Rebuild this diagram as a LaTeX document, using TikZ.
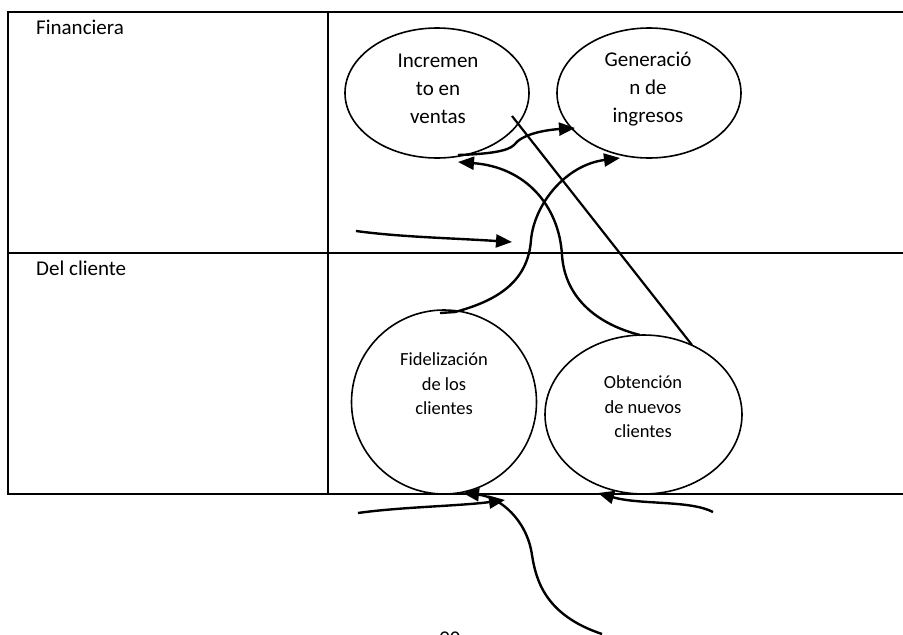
\documentclass[tikz,border=0pt]{standalone}
\usepackage{fontspec}
\setmainfont{Carlito}
\usetikzlibrary{shapes.geometric,arrows.meta}
\begin{document}
\begin{tikzpicture}[x=1pt,y=-1pt,
  grid/.style={line width=2.2pt},
  goal/.style={draw,ellipse,line width=1.6pt,inner sep=0pt},
  bigtxt/.style={align=center,font=\fontsize{21}{28}\selectfont,inner sep=0pt},
  smalltxt/.style={align=center,font=\fontsize{18.5}{24.5}\selectfont,inner sep=0pt},
  rowtxt/.style={anchor=west,font=\fontsize{21}{28}\selectfont,inner sep=0pt},
  link/.style={line width=2.4pt,-{Triangle[length=16pt,width=13pt]}},
  plain/.style={line width=2.2pt}]
\useasboundingbox (0,0) rectangle (903,635);

% table frame
\draw[grid] (910,12) -- (8,12) -- (8,494) -- (910,494);
\draw[grid] (8,253) -- (910,253);
\draw[grid] (328,12) -- (328,494);
\node[rowtxt] (fin) at (36,27) {Financiera};
\node[rowtxt] (cli) at (36,268) {Del cliente};

% objectives
\node[goal,minimum width=184pt,minimum height=130pt] (inc) at (437,93) {};
\node[bigtxt] (inct) at (438,89) {Incremen\\to en\\ventas};
\node[goal,minimum width=184pt,minimum height=130pt] (gen) at (649,93) {};
\node[bigtxt] (gent) at (648,89) {Generació\\n de\\ingresos};
\node[goal,minimum width=185pt,minimum height=184pt] (fid) at (444,402) {};
\node[smalltxt] (fidt) at (444,384) {Fidelización\\de los\\clientes};
\node[goal,minimum width=197pt,minimum height=159pt] (obt) at (643.5,414.5) {};
\node[smalltxt] (obtt) at (643,407) {Obtención\\de nuevos\\clientes};

% connector end points
\coordinate (a0) at (458,155);
\coordinate (a1) at (575,128);
\coordinate (b0) at (640,335);
\coordinate (b1) at (458,162);
\coordinate (c0) at (440,313);
\coordinate (c1) at (620,158);
\coordinate (d0) at (512,116);
\coordinate (d1) at (692,345);
\coordinate (e0) at (356,231);
\coordinate (e1) at (512,242);
\coordinate (f0) at (358,513);
\coordinate (f1) at (505,500);
\coordinate (g0) at (602,634);
\coordinate (g1) at (463,493);
\coordinate (h0) at (713,512);
\coordinate (h1) at (598,493);

% connectors
\draw[link] (a0) .. controls (490,154) and (508,151) .. (514,145)
  .. controls (522,134) and (545,130) .. (a1);
\draw[link] (b0) .. controls (600,325) and (565,300) .. (562,255)
  .. controls (559,205) and (525,167) .. (b1);
\draw[link] (c0) -- (455,312) .. controls (500,300) and (528,280) .. (531,240)
  .. controls (534,205) and (565,165) .. (c1);
\draw[plain] (d0) -- (d1);
\draw[link] (e0) .. controls (400,237) and (450,238) .. (e1);
\draw[link] (f0) .. controls (400,507) and (460,506) .. (f1);
\draw[link] (g0) .. controls (545,615) and (536,580) .. (532,555)
  .. controls (527,520) and (500,497) .. (g1);
\draw[link] (h0) .. controls (690,500) and (640,505) .. (h1);

% page number, running off the lower edge
\node[anchor=north west,font=\fontsize{21}{25}\selectfont,inner sep=0pt] (pg) at (439,631.5) {90};
\end{tikzpicture}
\end{document}
